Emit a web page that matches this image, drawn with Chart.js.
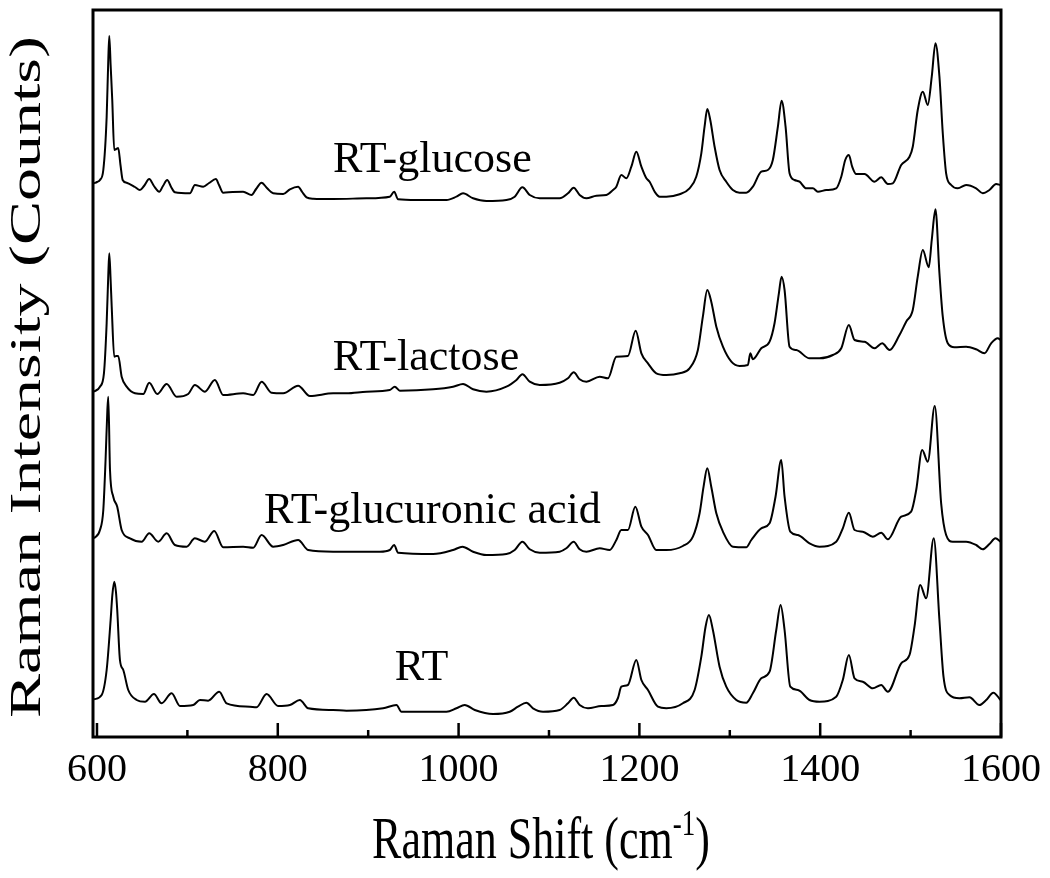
<!DOCTYPE html>
<html><head><meta charset="utf-8">
<script src="https://cdn.jsdelivr.net/npm/chart.js@4.4.0/dist/chart.umd.min.js"></script>
<style>html,body{margin:0;padding:0;background:#fff;}canvas{display:block;}</style>
</head><body>
<canvas id="c" width="1050" height="878"></canvas>
<script>
// Raman shift (cm-1), intensity (counts, stacked as displayed)
const glucosePoints = [[596.7,553.7],[600,555],[603.3,557],[607,567],[610.7,620],[612.5,677],[613.6,701],[615.1,672],[616.9,637],[619.1,587],[621.3,588],[623.5,589],[626,572],[628.4,557],[632.8,554.3],[642,550],[647.5,547],[652,551],[657.8,558],[663,551],[668.9,545.3],[673,551],[677.7,557],[682,550],[686.2,544.7],[702.8,543.7],[708.3,552],[717.5,550.3],[724,554],[731.5,558],[735,552],[739.6,544.3],[750,545],[761.7,545.3],[771,542],[776,548],[782.1,554.3],[788,549],[794.9,543.7],[806,543],[813.4,547.7],[822.5,550.3],[827,545],[831.8,539.7],[839.1,538.3],[861.2,538],[898.1,538.7],[923.9,540.3],[928.7,545.3],[933.1,537.7],[953.4,537],[986.6,537],[997.6,540.3],[1004.9,543.7],[1016,538.7],[1030.8,536],[1052.9,537],[1062.1,540.3],[1070.6,549.7],[1078.7,542],[1089.7,538.7],[1111.8,538.7],[1121,543.7],[1127.3,549.3],[1133.9,542],[1141.4,538.7],[1152.4,541.3],[1163.5,542],[1170.8,547],[1174.5,550.3],[1180,562],[1185.6,558.7],[1191.1,570.3],[1196.6,585.3],[1202.2,570.3],[1207.7,558.7],[1211.3,555.3],[1216.9,545.3],[1222.4,540.3],[1229.8,540.3],[1244.5,542.7],[1255.5,548.7],[1262.9,560.3],[1268.5,583.7],[1272.1,610.3],[1275.1,628],[1278.4,617],[1283.2,590.3],[1288.7,567],[1296.1,555.3],[1303.4,547],[1310.8,544.3],[1318.2,544.3],[1325.5,550.3],[1334.8,565.3],[1342.1,567],[1347.6,577],[1353.2,610.3],[1357.3,636.3],[1361.7,610.3],[1366.1,563.7],[1371.6,557],[1377.2,555.3],[1384.6,548.7],[1391.9,548.7],[1397.4,545.3],[1406.7,547],[1417.7,548.7],[1423.3,560.3],[1427.7,577],[1431.7,582],[1435.4,570.3],[1439.8,563],[1449,563],[1460.1,555.3],[1467.5,559.7],[1474.8,553],[1480.3,553.7],[1489.6,572],[1498.8,580.3],[1502.4,590.3],[1507.9,627],[1513.5,645.3],[1519,632],[1523.4,660.3],[1527.5,693.7],[1531.9,660.3],[1535.6,603.7],[1539.3,563.7],[1544.9,552],[1552.2,548.7],[1561.4,552],[1572.5,548.7],[1579.8,543.7],[1587.2,547],[1594.6,553],[1599.5,552]];

const lactosePoints = [[596.7,345.3],[603.3,350.3],[607.7,363.7],[610.7,413.7],[612.5,462],[613.6,483.7],[615.1,457],[616.3,430.3],[619.1,380.3],[621.3,381],[623.5,381],[627.3,360.3],[632.8,350.3],[642,343.7],[651.2,343],[657.8,354.3],[666.7,343],[677.1,353],[688.1,340.3],[700.9,343],[708.3,352],[719.4,345.3],[730.4,357],[739.6,342],[761.7,343.7],[772.8,342],[782.1,355.3],[793.1,344.3],[806,343.7],[822.5,351.3],[835.5,341],[861.2,343.7],[876,343.7],[898.1,345.3],[923.9,347],[929.4,350.3],[935,346.3],[971.8,347.7],[993.9,350.3],[1004.9,353],[1016,347.7],[1030.8,345.3],[1052.9,350.3],[1064,357],[1070.6,362.7],[1078.7,355.3],[1089.7,352],[1111.8,354.3],[1121,358.7],[1127.3,364.7],[1133.9,357.7],[1141.4,355.3],[1156.1,360.3],[1165.2,358.7],[1174.5,380.3],[1187.3,381],[1195.9,406.3],[1202.2,383.7],[1209.5,373.7],[1218.7,363.7],[1229.8,362],[1244.5,363.7],[1255.5,368.7],[1264.7,387],[1270.2,420.3],[1275.1,447],[1279.5,435.3],[1285.1,410.3],[1292.4,390.3],[1301.7,375.3],[1310.8,371],[1320,372],[1322.7,383.7],[1325.5,377.7],[1334.8,388.7],[1344,395.3],[1349.5,413.7],[1354.3,443.7],[1357.3,460.3],[1360.6,447],[1366.1,390.3],[1373.5,387],[1388.2,378.7],[1399.3,378.7],[1414,382],[1423.3,388.7],[1431.7,412],[1438,397],[1449,395.3],[1460.1,388.7],[1468.6,393.7],[1476.7,387],[1487.7,402],[1495.1,415.3],[1502.4,427],[1507.9,460.3],[1513.5,487],[1520.1,469.7],[1523.4,497],[1527.5,527.7],[1531.9,463.7],[1535.6,420.3],[1541.1,393.7],[1548.5,389.7],[1561.4,390.3],[1572.5,387.7],[1581.7,383.7],[1589.1,393.7],[1596.4,398.7],[1599.5,397]];

const glucuronicPoints = [[596.7,198.7],[603.3,207],[607,227],[609.5,277],[611.5,327],[612.5,340.3],[614.4,267],[618,240.3],[622.4,230.3],[627.3,207],[636.5,198.7],[649.4,195.3],[657.8,203.7],[667.8,195.3],[677.1,203.7],[686.2,192],[699.2,190.3],[708.3,198.7],[719.4,195.3],[729.7,206],[739.6,189.7],[761.7,190.3],[772.8,189.3],[782.1,202],[794.9,190.3],[806,192],[822.5,197],[833.6,187],[861.2,185.3],[912.9,185.3],[923.9,187],[928.7,192],[933.1,184.3],[971.8,183],[993.9,187],[1004.3,190.3],[1016,185.3],[1030.8,182],[1052.9,183],[1062.1,187],[1070.6,195.3],[1078.7,187.7],[1089.7,184.3],[1111.8,185.3],[1119.2,188.7],[1127.3,195.3],[1133.9,187.7],[1141.4,185.3],[1156.1,188.7],[1167.1,187],[1174.5,197],[1180,207],[1187.3,207],[1195.5,230.3],[1202.2,210.3],[1209.5,202],[1218.7,187],[1229.8,187],[1248.1,191],[1259.2,200.3],[1266.6,223.7],[1271,250.3],[1275.1,268.7],[1279.5,250.3],[1285.1,223.7],[1292.4,205.3],[1303.4,190.3],[1318.2,189.7],[1323.8,197],[1334.8,208.7],[1344,213.7],[1350.6,240.3],[1356.9,277],[1360.6,240.3],[1366.9,205.3],[1375.3,202],[1388.2,193.7],[1399.3,190.3],[1417.7,195.3],[1425,208.7],[1431.7,224.3],[1438,207],[1447.1,205.3],[1458.2,200.3],[1467.5,204.3],[1474.8,197.7],[1489.6,220.3],[1500.6,225.3],[1506.2,247],[1512.8,287],[1519,275.3],[1526.7,331],[1533.8,233.7],[1539.3,202],[1546.6,195.3],[1561.4,195.3],[1572.5,192],[1579.8,187.7],[1587.2,193],[1593.8,198.7],[1599.5,195.3]];

const rtPoints = [[596.7,37.7],[605.2,42],[610.7,67],[615.1,117],[617,142],[619.1,155.3],[621,145],[622.4,127],[625.4,77],[629.1,67],[634.6,47],[643.9,37],[653.1,35.3],[663,43],[671.5,33.7],[682.6,43.7],[691.8,31],[706.5,32],[713.9,37],[723,36.3],[735.2,45.3],[743.4,33.7],[769.1,30.3],[776.5,29.7],[787.6,43],[800.4,31],[813.4,32],[824.4,37],[833.6,28.7],[861.2,27],[876,26.3],[916.5,28.7],[931.3,32],[936.8,25.3],[986.6,25.3],[997.6,28.7],[1006.8,32],[1017.9,27],[1038.1,23],[1056.6,25.3],[1065.7,30.3],[1075,34.3],[1082.3,28.7],[1093.4,25.3],[1111.8,27],[1121,33.7],[1127.3,39.3],[1133.9,32],[1143.1,28.7],[1157.9,31],[1170.8,32],[1176.3,39],[1180,50.3],[1187.3,52],[1196.6,77],[1202.2,57],[1209.5,47],[1220.5,30.3],[1229.8,28.7],[1248.1,33.7],[1261.1,47],[1268.5,80.3],[1273.2,110.3],[1276.9,122],[1281.3,107],[1288.7,70.3],[1296.1,50.3],[1307.2,37],[1318.2,34.3],[1325.5,43.7],[1334.8,58.7],[1344,65.3],[1351.4,107],[1356.2,132],[1360.6,107],[1366.9,50.3],[1375.3,47],[1388.2,37],[1399.3,35.3],[1417.7,40.3],[1425,57],[1431.7,82],[1438,58.7],[1447.1,55.3],[1458.2,48.7],[1467.5,52],[1474.8,45.3],[1489.6,73.7],[1498.8,82],[1504.3,110.3],[1510.6,152],[1517.2,138.7],[1525.6,198.7],[1531.9,117],[1536.4,60.3],[1543,42],[1554,38.7],[1565.1,39.7],[1576.1,32],[1583.6,37],[1591.6,44.3],[1599.5,37]];

const seriesNames = ["RT-glucose","RT-lactose","RT-glucuronic acid","RT"];
const seriesPoints = [glucosePoints, lactosePoints, glucuronicPoints, rtPoints];

const labelTexts = ["RT-glucose","RT-lactose","RT-glucuronic acid","RT"];
const labelShift = [971, 964, 971, 959];
const labelCounts = [565, 367, 214, 57];

const xMin = 595.6, xMax = 1600;
const tickValues = [600,700,800,900,1000,1100,1200,1300,1400,1500,1600];
const tickLabels = ["600","","800","","1000","","1200","","1400","","1600"];
const majorTicks = [600,800,1000,1200,1400,1600];
const xTitleMain = "Raman Shift (cm", xTitleSup = "-1", xTitleEnd = ")";
const yTitle = "Raman Intensity (Counts)";

const FONT = "'Liberation Serif','Times New Roman',Times,serif";

const decorPlugin = {
  id: 'decor',
  afterDatasetsDraw(chart) {
    const {ctx, chartArea: a, scales: {x, y}} = chart;
    ctx.save();
    ctx.strokeStyle = '#000';
    ctx.lineWidth = 3;
    ctx.strokeRect(a.left, a.top, a.right - a.left, a.bottom - a.top);
    ctx.lineWidth = 2.5;
    tickValues.forEach(v => {
      const px = x.getPixelForValue(v);
      const major = majorTicks.includes(v);
      ctx.beginPath();
      ctx.moveTo(px, a.bottom);
      ctx.lineTo(px, a.bottom - (major ? 14 : 7));
      ctx.stroke();
    });
    ctx.fillStyle = '#000';
    ctx.font = `44px ${FONT}`;
    ctx.textAlign = 'center';
    ctx.textBaseline = 'alphabetic';
    labelTexts.forEach((t, i) => {
      ctx.fillText(t, x.getPixelForValue(labelShift[i]), y.getPixelForValue(labelCounts[i]));
    });
    ctx.restore();

    // x title with superscript
    ctx.save();
    ctx.fillStyle = '#000';
    ctx.textBaseline = 'alphabetic';
    ctx.textAlign = 'left';
    ctx.font = `44px ${FONT}`;
    const w1 = ctx.measureText(xTitleMain).width;
    const w3 = ctx.measureText(xTitleEnd).width;
    ctx.font = `27px ${FONT}`;
    const w2 = ctx.measureText(xTitleSup).width;
    const total = w1 + w2 + w3;
    const cx = 541, base = 858;
    let sx = cx - total / 2;
    ctx.translate(0, base);
    ctx.scale(1, 1.35);
    ctx.font = `44px ${FONT}`;
    ctx.fillText(xTitleMain, sx, 0);
    ctx.font = `27px ${FONT}`;
    ctx.fillText(xTitleSup, sx + w1, -17);
    ctx.font = `44px ${FONT}`;
    ctx.fillText(xTitleEnd, sx + w1 + w2, 0);
    ctx.restore();

    // y title
    ctx.save();
    ctx.fillStyle = '#000';
    ctx.font = `44px ${FONT}`;
    ctx.textAlign = 'center';
    ctx.textBaseline = 'alphabetic';
    ctx.translate(40, 377);
    ctx.rotate(-Math.PI / 2);
    ctx.scale(1.5, 1);
    ctx.fillText(yTitle, 0, 0);
    ctx.restore();
  }
};

new Chart(document.getElementById('c'), {
  type: 'line',
  data: {
    datasets: seriesPoints.map((pts, i) => ({
      label: seriesNames[i],
      data: pts.map(p => ({x: p[0], y: p[1]})),
      borderColor: '#000',
      borderWidth: 2,
      pointRadius: 0,
      fill: false,
      cubicInterpolationMode: 'monotone'
    }))
  },
  options: {
    responsive: false,
    animation: false,
    devicePixelRatio: 1,
    layout: {padding: {top: 10, right: 49, left: 0, bottom: 0}},
    plugins: {legend: {display: false}, tooltip: {enabled: false}},
    scales: {
      x: {
        type: 'linear', min: xMin, max: xMax,
        afterFit(s) { s.height = 141; },
        afterBuildTicks(s) { s.ticks = tickValues.map(v => ({value: v})); },
        grid: {display: false, drawTicks: false},
        border: {display: false},
        ticks: {
          autoSkip: false, maxRotation: 0, minRotation: 0,
          padding: 9, color: '#000', font: {family: FONT, size: 40},
          callback: (v) => { const i = tickValues.indexOf(v); return i >= 0 ? tickLabels[i] : ''; }
        }
      },
      y: {
        type: 'linear', min: 0, max: 727,
        afterFit(s) { s.width = 93; },
        grid: {display: false, drawTicks: false},
        border: {display: false},
        ticks: {display: false}
      }
    }
  },
  plugins: [decorPlugin]
});
</script>
</body></html>
